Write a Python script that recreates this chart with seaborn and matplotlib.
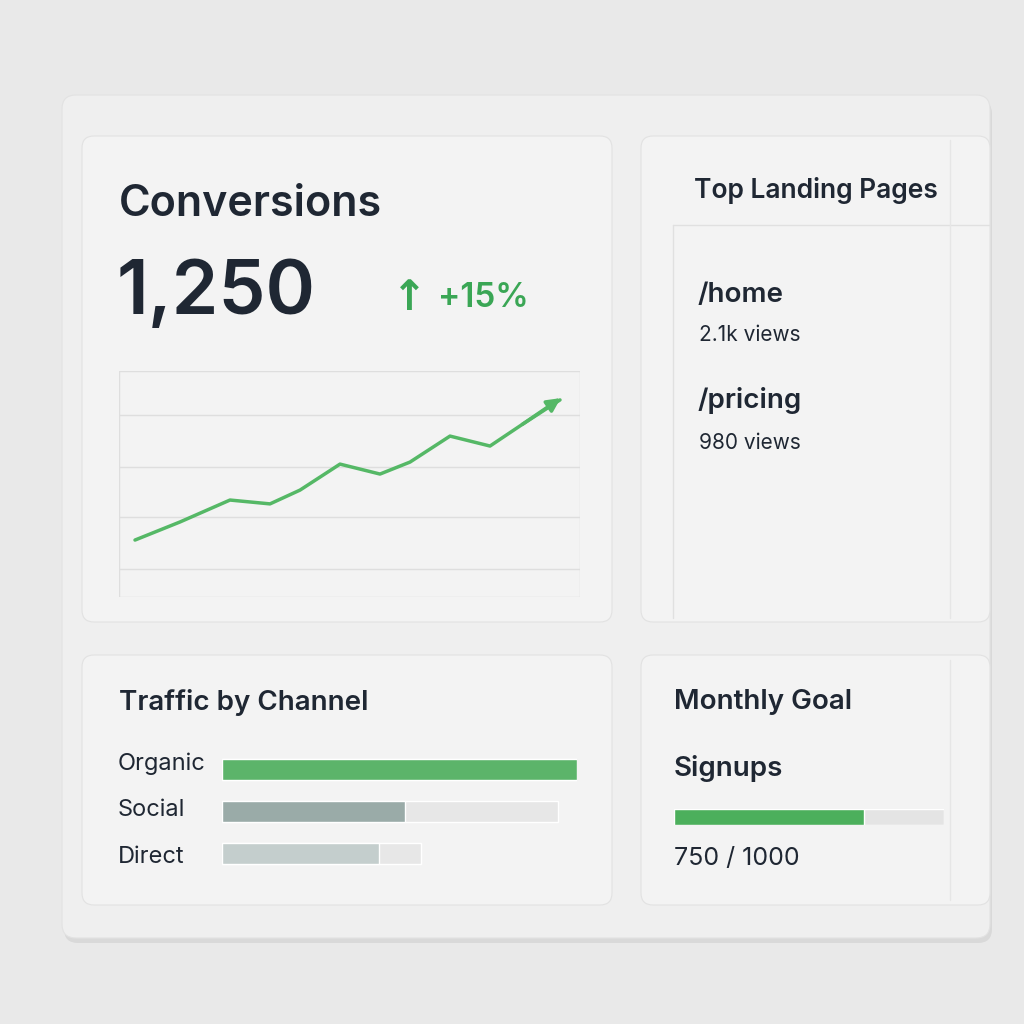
import matplotlib
matplotlib.use("Agg")
import matplotlib.pyplot as plt
import seaborn as sns
import pandas as pd
from matplotlib.patches import FancyBboxPatch

sns.set_theme(style="white")
plt.rcParams['font.family'] = ['Inter', 'DejaVu Sans']

# ---- data ----
trend_x = [0, 45, 95, 135, 165, 205, 245, 275, 315, 355, 385, 425]
trend_y = [25.2, 33.2, 42.9, 41.2, 47.3, 58.8, 54.4, 59.7, 71.2, 66.8, 75.7, 87.2]
channels = ["Organic", "Social", "Direct"]
channel_values = [100, 51.5, 44.2]
channel_tracks = [100, 94.6, 56.0]
pages = ["/home", "/pricing"]
page_views = ["2.1k views", "980 views"]
kpi_value = "1,250"
kpi_change = "+15%"
goal_done = 750
goal_total = 1000

W = H = 1024
fig = plt.figure(figsize=(10.24, 10.24), dpi=100)
fig.patch.set_facecolor("#e9e9e9")

def fx(x): return x / W
def fy(y): return 1 - y / H

def card(x0, y0, x1, y1, fc="#f3f3f3", shadow=True, r=12):
    if shadow:
        fig.patches.append(FancyBboxPatch((fx(x0 + 2), fy(y1 + 5)), fx(x1 - x0), (y1 - y0) / H,
                                          boxstyle=f"round,pad=0,rounding_size={r/W}",
                                          transform=fig.transFigure, fc="#d9d9d9", ec="none", zorder=0))
    fig.patches.append(FancyBboxPatch((fx(x0), fy(y1)), fx(x1 - x0), (y1 - y0) / H,
                                      boxstyle=f"round,pad=0,rounding_size={r/W}",
                                      transform=fig.transFigure, fc=fc, ec="#e2e2e2", lw=0.8, zorder=1))

def txt(x, y, s, size, color="#1f2733", weight="normal", **kw):
    fig.text(fx(x), fy(y), s, fontsize=size, color=color, weight=weight, va="center", ha="left", zorder=10, **kw)

card(62, 95, 990, 938, fc="#efefef", r=14)
card(82, 136, 612, 622)
card(641, 136, 990, 622)
card(82, 655, 612, 905)
card(641, 655, 990, 905)

# Conversions card
txt(119, 205, "Conversions", 31, weight="semibold")
txt(117, 295, kpi_value, 54, weight="semibold")
txt(392, 298, "↑", 30, color="#3aa655", weight="bold", family=["DejaVu Sans"])
txt(438, 298, kpi_change, 24, color="#3aa655", weight="semibold")

ax = fig.add_axes([fx(119), fy(597), fx(580 - 119), (597 - 371) / H])
ax.set_zorder(5)
ax.set_facecolor("#f3f3f3")
ax.set_xlim(-16, 445)
ax.set_ylim(0, 100)
for g in [0, 12.4, 35.4, 57.5, 80.5, 100]:
    ax.axhline(g, color="#dedede", lw=1, zorder=0)
df = pd.DataFrame({"x": trend_x, "y": trend_y})
sns.lineplot(data=df, x="x", y="y", ax=ax, color="#55b866", lw=2.5)
ax.annotate("", xy=(trend_x[-1] + 3, trend_y[-1] + 1.5), xytext=(trend_x[-2], trend_y[-2]),
            arrowprops=dict(arrowstyle="-|>", color="#55b866", lw=2.5, mutation_scale=20))
ax.set_xticks([]); ax.set_yticks([]); ax.set_xlabel(""); ax.set_ylabel("")
for s in ax.spines.values():
    s.set_visible(False)
ax.axvline(-16, color="#dedede", lw=1)
ax.axvline(445, color="#dedede", lw=1)

# Top landing pages
fig.lines.append(plt.Line2D([fx(673), fx(990)], [fy(225), fy(225)], transform=fig.transFigure, color="#e0e0e0", lw=1, zorder=3))
fig.lines.append(plt.Line2D([fx(673), fx(673)], [fy(225), fy(618)], transform=fig.transFigure, color="#e0e0e0", lw=1, zorder=3))
fig.lines.append(plt.Line2D([fx(950), fx(950)], [fy(140), fy(618)], transform=fig.transFigure, color="#e6e6e6", lw=1, zorder=3))
txt(694, 191, "Top Landing Pages", 19, weight="semibold")
for i, (p, v) in enumerate(zip(pages, page_views)):
    txt(698, 295 + i * 106, p, 20, weight="semibold")
    txt(699, 335 + i * 108, v, 15)

# Traffic by channel
txt(119, 702, "Traffic by Channel", 20, weight="semibold")
bx = fig.add_axes([fx(222), fy(870), fx(577 - 222), (870 - 753) / H])
bx.set_zorder(5)
bx.set_facecolor("none")
cdf = pd.DataFrame({"ch": channels, "v": channel_values, "t": channel_tracks})
sns.barplot(data=cdf, y="ch", x="t", ax=bx, color="#e7e7e7", width=0.5, orient="h", saturation=1)
sns.barplot(data=cdf, y="ch", x="v", ax=bx, palette=["#5cb46a", "#9aaba8", "#c4cecd"],
            hue="ch", legend=False, width=0.5, orient="h", saturation=1)
bx.set_xlim(0, 100)
bx.set_ylim(2.4, -0.4)
bx.set_xticks([]); bx.set_yticks([]); bx.set_xlabel(""); bx.set_ylabel("")
for s in bx.spines.values():
    s.set_visible(False)
for i, c in enumerate(channels):
    txt(118, 764 + i * 46.5, c, 17)

# Monthly goal
fig.lines.append(plt.Line2D([fx(950), fx(950)], [fy(660), fy(900)], transform=fig.transFigure, color="#e6e6e6", lw=1, zorder=3))
txt(674, 702, "Monthly Goal", 20, weight="semibold")
txt(674, 769, "Signups", 20, weight="semibold")
gx = fig.add_axes([fx(674), fy(825), fx(944 - 674), 16 / H])
gx.set_zorder(5)
gx.set_facecolor("none")
gx.barh([0], [goal_total], color="#e4e4e4", height=1)
gx.barh([0], [goal_done * 0.94], color="#4caf5c", height=1)
gx.set_xlim(0, goal_total); gx.set_ylim(-0.5, 0.5)
gx.axis("off")
txt(674, 858, f"{goal_done} / {goal_total}", 18)

fig.savefig("out.png", dpi=100, facecolor=fig.get_facecolor())
